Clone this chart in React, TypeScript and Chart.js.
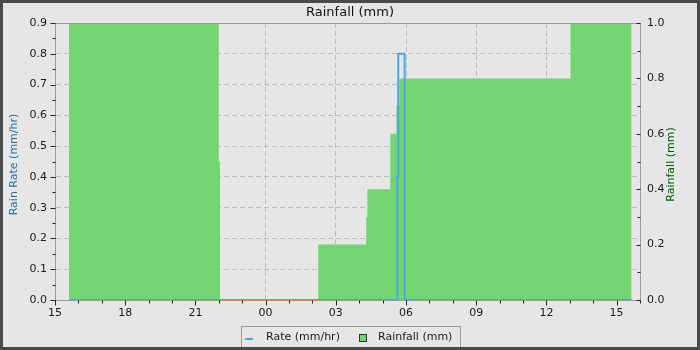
import React, { useEffect, useRef } from "react";
import { Chart, registerables } from "chart.js";

Chart.register(...registerables);

const FONT = "'DejaVu Sans', 'Liberation Sans', sans-serif";

// x values are hours elapsed since 15:00 on the first day
const startHour = 15;
const xMin = 0;
const xMax = 25;

// Rainfall (mm), right axis, stepped (value holds until the next point)
const rainHours = [0.6, 7.0, 7.05, 11.25, 13.3, 13.35, 14.33, 14.59, 14.72, 22.03, 24.64];
const rainMm = [1.0, 0.5, 0.0, 0.2, 0.3, 0.4, 0.6, 0.7, 0.8, 1.0, 0.0];

// Rain rate (mm/hr), left axis, stepped
const rateHours = [0.6, 14.63, 14.67, 14.94, 24.64];
const rateMmHr = [0.0, 0.4, 0.8, 0.0, 0.0];

const titleText = "Rainfall (mm)";
const leftAxisTitle = "Rain Rate (mm/hr)";
const rightAxisTitle = "Rainfall (mm)";
const rateLabel = "Rate (mm/hr)";
const rainLabel = "Rainfall (mm)";

const RATE_COLOR = "#4aa6dc";
const RAIN_COLOR = "#72d572";
const BG = "#e6e6e6";
const TEXT = "#1a1a1a";

const isMult = (v: number, step: number) => Math.abs(v / step - Math.round(v / step)) < 1e-6;

const decorPlugin = {
  id: "decor",
  beforeDraw(chart: any) {
    const { ctx, width, height } = chart;
    ctx.save();
    ctx.fillStyle = BG;
    ctx.fillRect(0, 0, width, height);
    ctx.restore();
  },
  afterDraw(chart: any) {
    const { ctx, chartArea, width, height } = chart;
    const xs = chart.scales.x;
    const ys = chart.scales.y;
    const y1s = chart.scales.y1;
    const L = Math.floor(chartArea.left) + 0.5;
    const R = Math.floor(chartArea.right) + 0.5;
    const T = Math.floor(chartArea.top) + 0.5;
    const B = Math.floor(chartArea.bottom) + 0.5;
    ctx.save();
    // plot frame
    ctx.strokeStyle = "#9a9a9a";
    ctx.lineWidth = 1;
    ctx.strokeRect(L, T, R - L, B - T);

    // tick marks
    ctx.strokeStyle = "#222";
    ctx.beginPath();
    for (let h = xMin; h <= xMax; h += 1) {
      const x = Math.round(xs.getPixelForValue(h)) + 0.5;
      const len = isMult(h, 3) ? 5 : 3;
      ctx.moveTo(x, B);
      ctx.lineTo(x, B + len);
    }
    for (let i = 0; i <= 18; i++) {
      const v = i * 0.05;
      const y = Math.round(ys.getPixelForValue(v)) + 0.5;
      const len = i % 2 === 0 ? 5 : 3;
      ctx.moveTo(L - len, y);
      ctx.lineTo(L, y);
    }
    for (let i = 0; i <= 10; i++) {
      const v = i * 0.1;
      const y = Math.round(y1s.getPixelForValue(v)) + 0.5;
      const len = i % 2 === 0 ? 4 : 3;
      ctx.moveTo(R - len, y);
      ctx.lineTo(R, y);
    }
    ctx.stroke();

    // axis titles
    ctx.font = `11px ${FONT}`;
    ctx.textAlign = "center";
    ctx.textBaseline = "middle";
    ctx.save();
    ctx.translate(14.5, (chartArea.top + chartArea.bottom) / 2 + 3);
    ctx.rotate(-Math.PI / 2);
    ctx.fillStyle = "#1f72a6";
    ctx.fillText(leftAxisTitle, 0, 0);
    ctx.restore();
    ctx.save();
    ctx.translate(671, (chartArea.top + chartArea.bottom) / 2 + 3);
    ctx.rotate(-Math.PI / 2);
    ctx.fillStyle = "#005a00";
    ctx.fillText(rightAxisTitle, 0, 0);
    ctx.restore();

    // legend
    ctx.strokeStyle = "#9a9a9a";
    ctx.strokeRect(241.5, 326.5, 219, 22);
    ctx.strokeStyle = RATE_COLOR;
    ctx.lineWidth = 2;
    ctx.beginPath();
    ctx.moveTo(245, 339);
    ctx.lineTo(253, 339);
    ctx.stroke();
    ctx.lineWidth = 1;
    ctx.fillStyle = RAIN_COLOR;
    ctx.fillRect(359.5, 334.5, 7, 7);
    ctx.strokeStyle = "#333";
    ctx.strokeRect(359.5, 334.5, 7, 7);
    ctx.fillStyle = TEXT;
    ctx.textAlign = "left";
    ctx.textBaseline = "middle";
    ctx.fillText(rateLabel, 266, 337.5);
    ctx.fillText(rainLabel, 378, 337.5);

    // outer frame
    ctx.strokeStyle = "#4a4a4a";
    ctx.lineWidth = 3;
    ctx.strokeRect(1.5, 1.5, width - 3, height - 3);
    ctx.restore();
  },
};

export default function App() {
  const ref = useRef<HTMLCanvasElement>(null);
  useEffect(() => {
    const canvas = ref.current!;
    const chart = new Chart(canvas, {
      type: "line",
      data: {
        datasets: [
          {
            label: rateLabel,
            data: rateHours.map((h, i) => ({ x: h, y: rateMmHr[i] })),
            yAxisID: "y",
            borderColor: RATE_COLOR,
            backgroundColor: RATE_COLOR,
            borderWidth: 2,
            pointRadius: 0,
            stepped: "before",
            fill: false,
          },
          {
            label: rainLabel,
            data: rainHours.map((h, i) => ({ x: h, y: rainMm[i] })),
            yAxisID: "y1",
            borderColor: "transparent",
            backgroundColor: RAIN_COLOR,
            borderWidth: 0,
            pointRadius: 0,
            stepped: "before",
            fill: "origin",
          },
        ],
      },
      options: {
        responsive: false,
        animation: false,
        events: [],
        layout: { padding: { left: 0, right: 0, top: 0, bottom: 26 } },
        plugins: {
          legend: { display: false },
          tooltip: { enabled: false },
          title: {
            display: true,
            text: titleText,
            color: "#111",
            font: { family: FONT, size: 13, weight: "normal" },
            padding: { top: 5, bottom: 2.4 },
          },
        },
        scales: {
          x: {
            type: "linear",
            min: xMin,
            max: xMax,
            afterFit: (s: any) => {
              s.height = 24;
            },
            ticks: {
              stepSize: 3,
              includeBounds: false,
              autoSkip: false,
              maxRotation: 0,
              padding: 1,
              color: TEXT,
              font: { family: FONT, size: 11 },
              callback: (v: any) => String((startHour + Number(v)) % 24).padStart(2, "0"),
            },
            grid: {
              color: (c: any) => (c.tick && c.tick.value > xMin && c.tick.value < xMax ? "#bdbdbd" : "transparent"),
              tickColor: "transparent",
              tickLength: 6,
            },
            border: { color: "#9a9a9a", dash: [5, 3] },
          },
          y: {
            position: "left",
            min: 0,
            max: 0.9,
            afterFit: (s: any) => {
              s.width = 55;
            },
            ticks: {
              stepSize: 0.1,
              padding: 3,
              color: TEXT,
              font: { family: FONT, size: 11 },
              callback: (v: any) => Number(v).toFixed(1),
            },
            grid: {
              color: (c: any) => (c.tick && c.tick.value > 0.001 && c.tick.value < 0.899 ? "#bdbdbd" : "transparent"),
              tickColor: "transparent",
              tickLength: 5,
            },
            border: { color: "#9a9a9a", dash: [5, 3] },
          },
          y1: {
            position: "right",
            min: 0,
            max: 1.0,
            afterFit: (s: any) => {
              s.width = 60;
            },
            ticks: {
              stepSize: 0.2,
              padding: 3,
              color: TEXT,
              font: { family: FONT, size: 11 },
              callback: (v: any) => Number(v).toFixed(1),
            },
            grid: {
              drawOnChartArea: false,
              tickColor: "transparent",
              tickLength: 4,
            },
            border: { color: "#9a9a9a" },
          },
        },
      },
      plugins: [decorPlugin],
    } as any);
    return () => chart.destroy();
  }, []);
  return (
    <div style={{ position: "fixed", left: 0, top: 0, width: 700, height: 350 }}>
      <canvas ref={ref} width={700} height={350} style={{ display: "block", width: 700, height: 350 }} />
    </div>
  );
}
